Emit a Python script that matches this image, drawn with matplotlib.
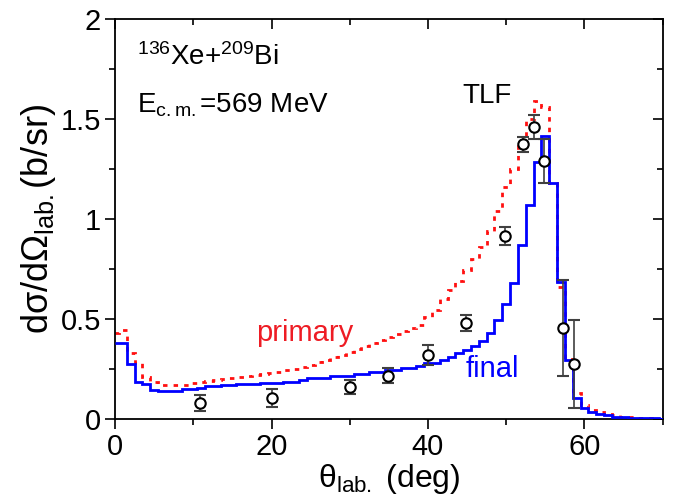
import numpy as np
import matplotlib
matplotlib.use("Agg")
import matplotlib.pyplot as plt

plt.rcParams["font.family"] = ["Liberation Sans", "DejaVu Sans"]
plt.rcParams["mathtext.fontset"] = "custom"
plt.rcParams["mathtext.rm"] = "Liberation Sans"
plt.rcParams["mathtext.it"] = "Liberation Sans:italic"

# Histogram bins (1 deg wide, centred on integer angles)
theta_bins = np.arange(0, 71)

final = [
    0.378, 0.378, 0.273, 0.187, 0.173, 0.145, 0.138, 0.138, 0.138, 0.148,
    0.148, 0.155, 0.165, 0.165, 0.170, 0.170, 0.173, 0.173, 0.173, 0.180,
    0.180, 0.180, 0.187, 0.187, 0.195, 0.205, 0.205, 0.205, 0.217, 0.217,
    0.217, 0.225, 0.225, 0.237, 0.237, 0.245, 0.245, 0.253, 0.253, 0.267,
    0.278, 0.278, 0.295, 0.312, 0.328, 0.345, 0.367, 0.390, 0.428, 0.495,
    0.575, 0.678, 0.870, 1.070, 1.287, 1.417, 1.178, 0.683, 0.295, 0.103,
    0.053, 0.033, 0.023, 0.020, 0.012, 0.010, 0.006, 0.005, 0.004, 0.003,
    0.002,
]

primary = [
    0.430, 0.445, 0.328, 0.278, 0.210, 0.187, 0.170, 0.170, 0.170, 0.172,
    0.178, 0.185, 0.190, 0.195, 0.200, 0.205, 0.210, 0.215, 0.220, 0.225,
    0.230, 0.237, 0.245, 0.252, 0.262, 0.272, 0.283, 0.295, 0.308, 0.320,
    0.335, 0.350, 0.365, 0.380, 0.395, 0.410, 0.425, 0.440, 0.455, 0.470,
    0.510, 0.545, 0.600, 0.645, 0.690, 0.745, 0.800, 0.860, 0.940, 1.040,
    1.160, 1.250, 1.390, 1.500, 1.590, 1.560, 1.180, 0.660, 0.300, 0.128,
    0.070, 0.045, 0.035, 0.025, 0.018, 0.012, 0.009, 0.006, 0.004, 0.003,
    0.002,
]

# Experimental data
exp_theta = [10.9, 20.0, 30.0, 34.9, 40.0, 44.9, 49.8, 52.2, 53.6, 54.8, 57.2, 58.7]
exp_sigma = [0.078, 0.107, 0.162, 0.217, 0.320, 0.482, 0.917, 1.373, 1.462, 1.290, 0.457, 0.273]
exp_err = [0.040, 0.045, 0.035, 0.037, 0.050, 0.040, 0.045, 0.037, 0.060, 0.110, 0.240, 0.220]


def main():
    edges = np.concatenate([theta_bins - 0.5, [theta_bins[-1] + 0.5]])
    edges = np.clip(edges, 0, 70)

    fig = plt.figure(figsize=(6.83, 4.95), dpi=100)
    ax = fig.add_axes([0.1684, 0.1535, 0.8019, 0.8081])

    ax.stairs(
        primary, edges,
        baseline=None,
        color="#ff1010",
        linewidth=2.0,
        linestyle=(0, (1.6, 2.2)),
        zorder=2,
    )
    ax.stairs(
        final, edges,
        baseline=None,
        color="#0000ff",
        linewidth=2.0,
        zorder=3,
    )
    ax.errorbar(
        exp_theta, exp_sigma, yerr=exp_err,
        fmt="o",
        markersize=7.5,
        markerfacecolor="white",
        markeredgecolor="black",
        markeredgewidth=1.5,
        ecolor="#404040",
        elinewidth=1.2,
        capsize=4.5,
        capthick=1.2,
        zorder=4,
    )

    ax.set_xlim(0, 70)
    ax.set_ylim(0, 2)
    ax.set_xticks([0, 20, 40, 60])
    ax.set_xticks([10, 30, 50, 70], minor=True)
    ax.set_yticks([0, 0.5, 1, 1.5, 2])
    ax.set_yticklabels(["0", "0.5", "1", "1.5", "2"])
    ax.set_yticks([0.25, 0.75, 1.25, 1.75], minor=True)

    ax.tick_params(axis="both", which="both", labelsize=21, width=1.2,
                   top=True, right=True, direction="out")
    ax.tick_params(axis="both", which="major", length=7, pad=3)
    ax.tick_params(axis="both", which="minor", length=4)
    # mirrored ticks on top / right point inwards
    for t in ax.xaxis.get_major_ticks() + ax.xaxis.get_minor_ticks():
        t.tick2line.set_marker(3)
    for t in ax.yaxis.get_major_ticks() + ax.yaxis.get_minor_ticks():
        t.tick2line.set_marker(0)
    for sp in ax.spines.values():
        sp.set_linewidth(1.3)

    ax.set_xlabel(r"θ$_{\rm lab.}$ (deg)", fontsize=23, labelpad=1)
    ax.set_ylabel(r"dσ/dΩ$_{\rm lab.}$(b/sr)", fontsize=26, labelpad=2)

    ax.text(0.04, 0.94, r"$^{136}$Xe+$^{209}$Bi", transform=ax.transAxes,
            fontsize=20, va="top")
    ax.text(0.04, 0.82, r"E$_{\rm c{.}m{.}}$=569 MeV", transform=ax.transAxes,
            fontsize=20, va="top")
    ax.text(0.635, 0.84, "TLF", transform=ax.transAxes, fontsize=20, va="top")
    ax.text(0.258, 0.25, "primary", transform=ax.transAxes, fontsize=21,
            color="#ee1c24", va="top")
    ax.text(0.64, 0.16, "final", transform=ax.transAxes, fontsize=21,
            color="#0000ff", va="top")

    fig.savefig("out.png", dpi=100)


if __name__ == "__main__":
    main()
